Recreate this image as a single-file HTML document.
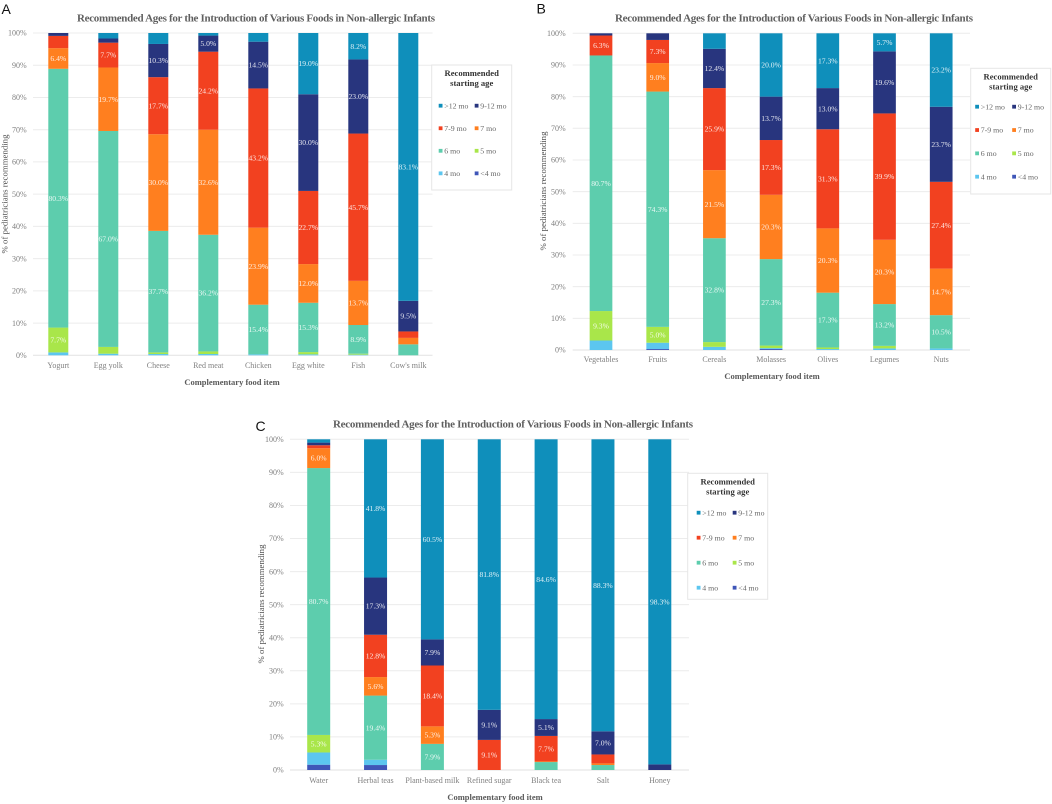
<!DOCTYPE html>
<html lang="en">
<head>
<meta charset="utf-8">
<title>Recommended Ages for the Introduction of Various Foods in Non-allergic Infants</title>
<style>
html,body{margin:0;padding:0;background:#fff;}
body{width:1052px;height:804px;overflow:hidden;}
svg{display:block;filter:blur(.3px);}
text{font-family:"Liberation Serif",serif;}
.panel-letter{font-family:"Liberation Sans",sans-serif;font-size:14px;fill:#111;}
.chart-title{font-size:11px;font-weight:bold;fill:#5f5f5f;}
.axis-title{font-size:8.5px;font-weight:bold;fill:#5a5a5a;text-anchor:middle;}
.y-title{font-weight:normal;font-size:8.8px;fill:#505050;}
.tick{font-size:8px;fill:#808080;}
.value{font-size:7.6px;fill:#fff;fill-opacity:.88;text-anchor:middle;}
.legend-title{font-size:8.6px;font-weight:bold;fill:#333;text-anchor:middle;}
.legend-label{font-size:7.8px;fill:#666;}
</style>
</head>
<body>
<svg id="fig" width="1052" height="804" viewBox="0 0 1052 804" xmlns="http://www.w3.org/2000/svg">
  <rect width="1052" height="804" fill="#fff"/>

  <g id="panelA">
    <text class="panel-letter" x="1.5" y="14">A</text>
    <text class="chart-title" x="77" y="21.5" textLength="358" lengthAdjust="spacing">Recommended Ages for the Introduction of Various Foods in Non-allergic Infants</text>
    <text class="axis-title y-title" transform="translate(7.5,194) rotate(-90)">% of pediatricians recommending</text>
    <text class="axis-title" x="232" y="385">Complementary food item</text>
  </g>

  <g id="panelB">
    <text class="panel-letter" x="536.5" y="13.5">B</text>
    <text class="chart-title" x="615" y="21.5" textLength="358" lengthAdjust="spacing">Recommended Ages for the Introduction of Various Foods in Non-allergic Infants</text>
    <text class="axis-title y-title" transform="translate(546,191) rotate(-90)">% of pediatricians recommending</text>
    <text class="axis-title" x="772" y="379">Complementary food item</text>
  </g>

  <g id="panelC">
    <text class="panel-letter" x="255.5" y="431">C</text>
    <text class="chart-title" x="333" y="427.5" textLength="360" lengthAdjust="spacing">Recommended Ages for the Introduction of Various Foods in Non-allergic Infants</text>
    <text class="axis-title y-title" transform="translate(264,604) rotate(-90)">% of pediatricians recommending</text>
    <text class="axis-title" x="495" y="800">Complementary food item</text>
  </g>
</svg>

<script>
// Shared axis and legend text
const yTickValues = [0, 10, 20, 30, 40, 50, 60, 70, 80, 90, 100];
const ageGroups = ['<4 mo', '4 mo', '5 mo', '6 mo', '7 mo', '7-9 mo', '9-12 mo', '>12 mo'];
const legendOrder = ['>12 mo', '9-12 mo', '7-9 mo', '7 mo', '6 mo', '5 mo', '4 mo', '<4 mo'];
const ageColors = ['#3f56b8', '#5cc6ef', '#a9e64a', '#5dcdad', '#ff7f1f', '#f24120', '#28357e', '#0f8fbb'];

// Panel A
const categoriesA = ['Yogurt', 'Egg yolk', 'Cheese', 'Red meat', 'Chicken', 'Egg white', 'Fish', "Cow's milk"];
const aLt4 = [0, 0, 0, 0, 0, 0, 0, 0];
const a4 = [0.9, 0.5, 0.4, 0.4, 0.3, 0.3, 0.2, 0];
const a5 = [7.7, 2.1, 0.5, 0.8, 0, 0.7, 0.3, 0];
const a6 = [80.3, 67.0, 37.7, 36.2, 15.4, 15.3, 8.9, 3.4];
const a7 = [6.4, 19.7, 30.0, 32.6, 23.9, 12.0, 13.7, 2.0];
const a79 = [3.8, 7.7, 17.7, 24.2, 43.2, 22.7, 45.7, 2.0];
const a912 = [0.9, 1.3, 10.3, 5.0, 14.5, 30.0, 23.0, 9.5];
const a12 = [0, 1.7, 3.4, 0.8, 2.7, 19.0, 8.2, 83.1];

// Panel B
const categoriesB = ['Vegetables', 'Fruits', 'Cereals', 'Molasses', 'Olives', 'Legumes', 'Nuts'];
const bLt4 = [0, 0.3, 0, 0.3, 0, 0, 0];
const b4 = [3.0, 2.0, 1.0, 0.3, 0.3, 0.5, 0.5];
const b5 = [9.3, 5.0, 1.5, 0.8, 0.5, 0.8, 0];
const b6 = [80.7, 74.3, 32.8, 27.3, 17.3, 13.2, 10.5];
const b7 = [0, 9.0, 21.5, 20.3, 20.3, 20.3, 14.7];
const b79 = [6.3, 7.3, 25.9, 17.3, 31.3, 39.9, 27.4];
const b912 = [0.7, 2.1, 12.4, 13.7, 13.0, 19.6, 23.7];
const b12 = [0, 0, 4.9, 20.0, 17.3, 5.7, 23.2];

// Panel C
const categoriesC = ['Water', 'Herbal teas', 'Plant-based milk', 'Refined sugar', 'Black tea', 'Salt', 'Honey'];
const cLt4 = [1.6, 1.5, 0, 0, 0, 0, 0];
const c4 = [3.7, 1.6, 0, 0, 0, 0, 0];
const c5 = [5.3, 0, 0, 0, 0, 0, 0];
const c6 = [80.7, 19.4, 7.9, 0, 2.4, 1.5, 0];
const c7 = [6.0, 5.6, 5.3, 0, 0.2, 0.5, 0];
const c79 = [0.9, 12.8, 18.4, 9.1, 7.7, 2.7, 0];
const c912 = [0.8, 17.3, 7.9, 9.1, 5.1, 7.0, 1.7];
const c12 = [1.0, 41.8, 60.5, 81.8, 84.6, 88.3, 98.3];

const NS = 'http://www.w3.org/2000/svg';
const LABEL_MIN = 5;

function make(tag, attrs, parent, text) {
  const el = document.createElementNS(NS, tag);
  for (const k in attrs) el.setAttribute(k, attrs[k]);
  if (text !== undefined) el.textContent = text;
  parent.appendChild(el);
  return el;
}
function slug(s) {
  return String(s).toLowerCase().replace(/</g, 'under-').replace(/>/g, 'over-').replace(/[^a-z0-9]+/g, '-').replace(/-$/, '');
}

function drawPanel(p) {
  const root = document.getElementById(p.id);
  const yScale = function (v) { return p.y0 + (p.y100 - p.y0) * v / 100; };
  const xScale = function (i) { return p.xFirst + p.xStep * i; };

  yTickValues.forEach(function (t) {
    const line = make('line', {x1: p.gridL, x2: p.gridR, y1: yScale(t), y2: yScale(t), stroke: t === 0 ? '#e2e2e2' : '#ececec', 'stroke-width': 1}, root);
    
    
    const lab = make('text', {class: 'tick', x: p.tickX, y: yScale(t) + 2.7, 'text-anchor': 'end'}, root, t + '%');
    
    
  });

  p.categories.forEach(function (cat, i) {
    const lab = make('text', {class: 'tick', x: xScale(i), y: p.xLabelY, 'text-anchor': 'middle'}, root, cat);
    
    

    let cum = 0;
    p.series.forEach(function (vals, s) {
      const v = vals[i];
      if (!v) return;
      const yTop = yScale(cum + v);
      const yBot = yScale(cum);
      const seg = make('rect', {x: xScale(i) - p.barW / 2, y: yTop, width: p.barW, height: yBot - yTop, fill: ageColors[s]}, root);
      
      
      cum += v;
    });

    let cum2 = 0;
    p.series.forEach(function (vals, s) {
      const v = vals[i];
      if (v >= LABEL_MIN) {
        const txt = make('text', {class: 'value', x: xScale(i), y: yScale(cum2 + v / 2) + 2.6}, root, v.toFixed(1) + '%');
        
        
      }
      cum2 += v;
    });
  });

  const lg = make('g', {}, root);
  
  
  const box = make('rect', {x: p.lgX, y: p.lgY, width: 80, height: p.lgH, fill: '#fff', stroke: '#e6e6e6', 'stroke-width': 1}, lg);
  
  
  const t1 = make('text', {class: 'legend-title', x: p.lgX + 40, y: p.lgY + 11}, lg, 'Recommended');
  
  
  const t2 = make('text', {class: 'legend-title', x: p.lgX + 40, y: p.lgY + 21}, lg, 'starting age');
  
  
  legendOrder.forEach(function (name, k) {
    const col = k % 2;
    const row = Math.floor(k / 2);
    const sx = p.lgX + (col ? p.lgCol2 : p.lgCol1);
    const cy = p.lgRow0 + row * p.lgRowStep;
    const sw = make('rect', {x: sx, y: cy - 1.9, width: 3.8, height: 3.8, fill: ageColors[ageGroups.indexOf(name)]}, lg);
    
    
    const tx = make('text', {class: 'legend-label', x: sx + 5.6, y: cy + 2.6}, lg, name);
    
    
  });
}

drawPanel({
  id: 'panelA', categories: categoriesA, series: [aLt4, a4, a5, a6, a7, a79, a912, a12],
  y0: 355.3, y100: 33, gridL: 33, gridR: 432.5, tickX: 26.7, xFirst: 58.3, xStep: 50, barW: 20, xLabelY: 368,
  lgX: 431.7, lgY: 65, lgH: 125, lgCol1: 7, lgCol2: 43, lgRow0: 105.7, lgRowStep: 22.55
});
drawPanel({
  id: 'panelB', categories: categoriesB, series: [bLt4, b4, b5, b6, b7, b79, b912, b12],
  y0: 350, y100: 33.3, gridL: 572.7, gridR: 970, tickX: 565.7, xFirst: 601, xStep: 56.7, barW: 22.7, xLabelY: 362,
  lgX: 970.7, lgY: 68.3, lgH: 125.7, lgCol1: 4.5, lgCol2: 41.5, lgRow0: 106.7, lgRowStep: 23.33
});
drawPanel({
  id: 'panelC', categories: categoriesC, series: [cLt4, c4, c5, c6, c7, c79, c912, c12],
  y0: 770, y100: 439.3, gridL: 290, gridR: 689, tickX: 283.7, xFirst: 318.7, xStep: 56.85, barW: 23, xLabelY: 783,
  lgX: 687.7, lgY: 473.3, lgH: 126, lgCol1: 9, lgCol2: 45, lgRow0: 512.7, lgRowStep: 25
});
</script>
</body>
</html>
